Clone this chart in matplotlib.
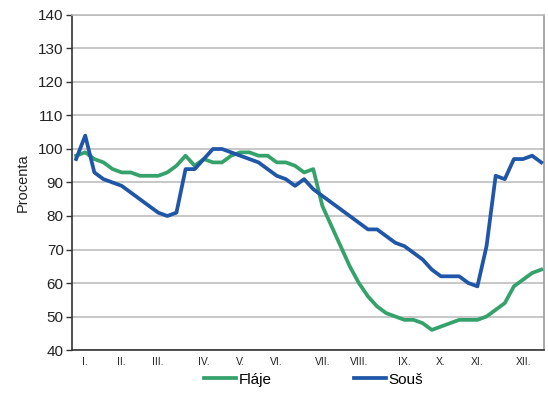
import matplotlib.pyplot as plt

plt.rcParams['font.family'] = ['Liberation Sans', 'DejaVu Sans']

# týdenní hodnoty (v procentech)
flaje = [98, 99, 97, 96, 94, 93, 93, 92, 92, 92, 93, 95, 98, 95, 97, 96, 96, 98, 99, 99,
         98, 98, 96, 96, 95, 93, 94, 83, 77, 71, 65, 60, 56, 53, 51, 50, 49, 49, 48, 46,
         47, 48, 49, 49, 49, 50, 52, 54, 59, 61, 63, 64]
sous = [97, 104, 93, 91, 90, 89, 87, 85, 83, 81, 80, 81, 94, 94, 97, 100, 100, 99, 98, 97,
        96, 94, 92, 91, 89, 91, 88, 86, 84, 82, 80, 78, 76, 76, 74, 72, 71, 69, 67, 64,
        62, 62, 62, 60, 59, 71, 92, 91, 97, 97, 98, 96]
month_weeks = [1, 5, 9, 14, 18, 22, 27, 31, 36, 40, 44, 49]
month_labels = ['I.', 'II.', 'III.', 'IV.', 'V.', 'VI.', 'VII.', 'VIII.', 'IX.', 'X.', 'XI.', 'XII.']

weeks = list(range(len(flaje)))

fig = plt.figure(figsize=(5.48, 4.03), dpi=100)
ax = fig.add_axes([0.1314, 0.1315, 0.8613, 0.8313])

ax.plot(weeks, flaje, color='#35A26B', lw=2.7, label='Fláje', solid_joinstyle='round', zorder=3)
ax.plot(weeks, sous, color='#1F56A8', lw=2.7, label='Souš', solid_joinstyle='round', zorder=4)

ax.set_ylim(40, 140)
ax.set_yticks(range(40, 141, 10))
ax.set_xlim(-0.45, 51.3)
ax.set_xticks(month_weeks)
ax.set_xticklabels(month_labels, fontsize=7.5, color='#222222')
ax.tick_params(axis='x', length=0, pad=5)
ax.tick_params(axis='y', labelsize=11, length=4, width=1, color='#333333', labelcolor='#222222', pad=2)

ax.grid(axis='y', color='#BDBDBD', lw=1.2)
ax.set_axisbelow(True)
ax.spines['left'].set_color('#333333')
ax.spines['left'].set_linewidth(1.2)
ax.spines['bottom'].set_color('#333333')
ax.spines['bottom'].set_linewidth(1.2)
ax.spines['right'].set_color('#9A9A9A')
ax.spines['right'].set_linewidth(1.2)
ax.spines['top'].set_color('#BDBDBD')
ax.spines['top'].set_linewidth(1.2)

ax.set_ylabel('Procenta', fontsize=10.5, color='#222222', labelpad=6)

fig.legend(loc='center', bbox_to_anchor=(0.572, 0.058), ncol=2, frameon=False,
           fontsize=11, handlelength=2.1, handletextpad=0.15, columnspacing=5.4)

fig.savefig('out.png', dpi=100)
